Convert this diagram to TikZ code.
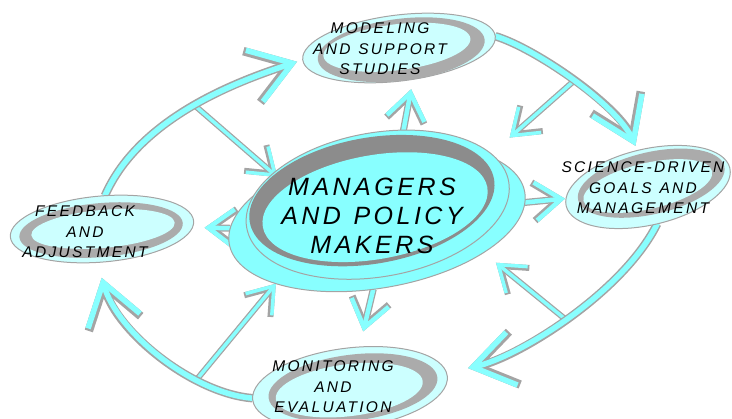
\documentclass[tikz,border=0pt]{standalone}
\usepackage{fontspec}
\newfontfamily\labelfont[LetterSpace=15]{Liberation Sans}
\newfontfamily\titlefont[LetterSpace=14]{Liberation Sans}
\usetikzlibrary{shapes.geometric,arrows.meta}

\pgfdeclarelayer{links}
\pgfdeclarelayer{arcs}
\pgfsetlayers{links,arcs,main}

\definecolor{aqua}{HTML}{88FFFF}
\definecolor{paleaqua}{HTML}{CCFFFF}
\definecolor{ringgray}{HTML}{ABABAB}
\definecolor{darkring}{HTML}{8C8C8C}
\definecolor{edgegray}{HTML}{A4A4A4}

\tikzset{
  bubble/.style={ellipse, draw=edgegray, line width=1pt, fill=paleaqua, inner sep=0pt, outer sep=0pt},
  ring/.style={fill=ringgray},
  core/.style={fill=paleaqua},
  lbl/.style={align=center, inner sep=0pt, font=\labelfont\itshape\fontsize{15.5}{20.5}\selectfont},
  flow/.style={draw=aqua, line width=5.5pt, line cap=round,
    preaction={draw=edgegray, line width=8.5pt},
    -{Straight Barb[length=40pt,width=54pt]}},
  push/.style={draw=aqua, line width=4.5pt, line cap=round,
    preaction={draw=edgegray, line width=7pt},
    -{Straight Barb[length=26pt,width=38pt]}},
  link/.style={draw=aqua, line width=3.5pt, line cap=round,
    preaction={draw=edgegray, line width=6pt},
    -{Straight Barb[length=24pt,width=34pt]}}
}

\begin{document}
\begin{tikzpicture}[x=1pt,y=-1pt]
\useasboundingbox (0,0) rectangle (732,419);

% central bubble
\node[bubble, fill=aqua, minimum width=300pt, minimum height=140pt, rotate=10] (managers) at (377,218) {};
\filldraw[fill=aqua, draw=edgegray, line width=1pt, shift={(managers.center)}, rotate=10] (3,-13) ellipse [x radius=133, y radius=72];
\fill[darkring, shift={(managers.center)}, rotate=10] (-2,-18) ellipse [x radius=124, y radius=63];
\fill[aqua, shift={(managers.center)}, rotate=10] (0,-11) ellipse [x radius=114, y radius=52];
\node[align=center, inner sep=0pt, font=\titlefont\itshape\fontsize{25}{29}\selectfont] (managers-txt) at (372,216)
  {MANAGERS\\AND\enspace POLICY\\MAKERS};

% modeling
\node[bubble, minimum width=194pt, minimum height=66pt, rotate=7] (model) at (399,48) {};
\fill[ring, shift={(model.center)}, rotate=7] (2,2) ellipse [x radius=84, y radius=31];
\fill[core, shift={(model.center)}, rotate=7] (-2,-1) ellipse [x radius=74, y radius=23];
\node[lbl] (model-txt) at (380,49) {MODELING\\AND\enspace SUPPORT\\STUDIES};

% science
\node[bubble, minimum width=168pt, minimum height=76pt, rotate=13] (science) at (648,187) {};
\fill[ring, shift={(science.center)}, rotate=13] (4,-3) ellipse [x radius=75, y radius=31];
\fill[core, shift={(science.center)}, rotate=13] (0,-1) ellipse [x radius=66, y radius=23];
\node[lbl] (science-txt) at (643,188) {SCIENCE-DRIVEN\\GOALS\enspace AND\\MANAGEMENT};

% feedback
\node[bubble, minimum width=184pt, minimum height=66pt, rotate=5] (feedback) at (102,229) {};
\fill[ring, shift={(feedback.center)}, rotate=5] (-1,1) ellipse [x radius=82, y radius=27];
\fill[core, shift={(feedback.center)}, rotate=5] (1,0) ellipse [x radius=72, y radius=19];
\node[lbl] (feedback-txt) at (85,232) {FEEDBACK\\AND\\ADJUSTMENT};

% monitoring
\node[bubble, minimum width=196pt, minimum height=80pt, rotate=7] (monitor) at (350,388) {};
\fill[ring, shift={(monitor.center)}, rotate=7] (3,0) ellipse [x radius=85, y radius=33];
\fill[core, shift={(monitor.center)}, rotate=7] (-1,2) ellipse [x radius=74, y radius=26];
\node[lbl] (monitor-txt) at (333,387) {MONITORING\\AND\\EVALUATION};

% the big loop
\begin{pgfonlayer}{arcs}
\draw[flow, shorten >=6pt] (feedback.80) .. controls +(35,-80) and +(-60,20) .. (model.180)
  coordinate[pos=.5] (fm-mid);
\draw[flow, shorten >=5pt] (model.0) .. controls +(40,12) and +(-20,-45) .. (science.93)
  coordinate[pos=.5] (ms-mid);
\draw[flow, shorten >=22pt] (science.-89) .. controls +(-35,70) and +(70,-15) .. (monitor.2)
  coordinate[pos=.5] (sm-mid);
\draw[flow, shorten >=16pt] (monitor.179) .. controls +(-60,-5) and +(20,70) .. (feedback.257)
  coordinate[pos=.3] (mf-mid);
\end{pgfonlayer}

% spokes
\begin{pgfonlayer}{links}
\draw[link, shorten >=2pt] (fm-mid) -- (managers.148);
\draw[link, shorten >=28pt] (ms-mid) -- (managers.19);
\draw[link, shorten >=16pt] (sm-mid) -- (managers.-28);
\draw[link] (mf-mid) -- (managers.203);
\draw[push, shorten >=10pt] (managers.62) -- (model.-73);
\draw[push, shorten >=1pt] (managers.-4) -- (science.175);
\draw[push, shorten >=12pt] (managers.174) -- (feedback.-4);
\draw[push, shorten >=16pt] (managers.257) -- (monitor.70);
\end{pgfonlayer}
\end{tikzpicture}
\end{document}
